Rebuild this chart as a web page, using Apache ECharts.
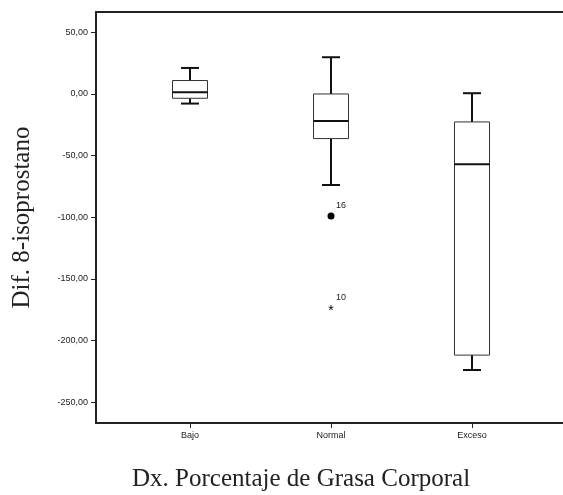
<!DOCTYPE html>
<html>
<head>
<meta charset="utf-8">
<script src="https://cdn.jsdelivr.net/npm/echarts@6/dist/echarts.min.js"></script>
<style>
  html, body { margin: 0; padding: 0; background: #fff; }
  #chart { width: 563px; height: 495px; }
</style>
</head>
<body>
<div id="chart"></div>
<script>
var categories = ['Bajo', 'Normal', 'Exceso'];
// [lower whisker, Q1, median, Q3, upper whisker]
var boxValues = [
    [-7.8, -3.5, 1.4, 10.9, 21.1],
    [-73.9, -36.2, -21.9, 0, 29.8],
    [-224, -211.9, -57.1, -22.7, 0.6]
];
// [category index, value, case label, marker]
var outliers = [
    [1, -99, '16', 'circle'],
    [1, -173.4, '10', 'star']
];
var yTicks = [-250, -200, -150, -100, -50, 0, 50];

var boxData = boxValues.map(function (b, i) {
    return [i].concat(b)
});

var chart = echarts.init(document.getElementById('chart'));

var labelFont = 'Liberation Sans, Arial, sans-serif'
var serifFont = 'Liberation Serif, Times New Roman, serif'

function renderBox(params, api) {
    var x = api.value(0)
    var lo = api.coord([x, api.value(1)])
    var q1 = api.coord([x, api.value(2)])
    var med = api.coord([x, api.value(3)])
    var q3 = api.coord([x, api.value(4)])
    var hi = api.coord([x, api.value(5)])
    var cx = lo[0]
    var half = 17.5
    var cap = 9
    var thick = { stroke: '#111', lineWidth: 2 }
    return {
        type: 'group',
        children: [
            { type: 'line', shape: { x1: cx, y1: hi[1], x2: cx, y2: q3[1] }, style: thick },
            { type: 'line', shape: { x1: cx, y1: q1[1], x2: cx, y2: lo[1] }, style: thick },
            { type: 'line', shape: { x1: cx - cap, y1: hi[1], x2: cx + cap, y2: hi[1] }, style: thick },
            { type: 'line', shape: { x1: cx - cap, y1: lo[1], x2: cx + cap, y2: lo[1] }, style: thick },
            {
                type: 'rect',
                shape: { x: cx - half, y: q3[1], width: half * 2, height: q1[1] - q3[1] },
                style: { fill: '#fff', stroke: '#333', lineWidth: 1 }
            },
            { type: 'line', shape: { x1: cx - half, y1: med[1], x2: cx + half, y2: med[1] }, style: thick }
        ]
    }
}

function renderOutlier(params, api) {
    var p = api.coord([api.value(0), api.value(1)])
    var item = outliers[params.dataIndex]
    var mark
    if (item[3] === 'circle') {
        mark = { type: 'circle', shape: { cx: p[0], cy: p[1], r: 3.5 }, style: { fill: '#000' } }
    } else {
        mark = {
            type: 'text',
            x: p[0], y: p[1] + 3,
            style: { text: '*', fontSize: 14, fontFamily: labelFont, fill: '#000', align: 'center', verticalAlign: 'middle' }
        }
    }
    return {
        type: 'group',
        children: [
            mark,
            {
                type: 'text',
                x: p[0] + 5, y: p[1] - 10,
                style: { text: item[2], fontSize: 9, fontFamily: labelFont, fill: '#222', align: 'left', verticalAlign: 'middle' }
            }
        ]
    }
}

var option = {
    backgroundColor: '#fff',
    animation: false,
    title: {
        text: 'Dx. Porcentaje de Grasa Corporal',
        left: 132,
        top: 467,
        padding: 0,
        textStyle: { fontFamily: serifFont, fontSize: 25, fontWeight: 'normal', color: '#222' }
    },
    grid: { left: 96, right: 0, top: 12, bottom: 72 },
    xAxis: [{
        type: 'value',
        position: 'bottom',
        min: -2 / 3,
        max: -2 / 3 + 467 / 141,
        splitLine: { show: false },
        axisLine: { show: true, onZero: false, lineStyle: { color: '#222', width: 2 } },
        axisTick: { show: true, customValues: [0, 1, 2], length: 5, lineStyle: { color: '#222' } },
        axisLabel: {
            customValues: [0, 1, 2],
            margin: 8,
            fontSize: 9,
            fontFamily: labelFont,
            color: '#222',
            formatter: function (v) { return categories[Math.round(v)] }
        }
    }, {
        type: 'value',
        position: 'top',
        min: -2 / 3,
        max: -2 / 3 + 467 / 141,
        splitLine: { show: false },
        axisLine: { show: true, onZero: false, lineStyle: { color: '#222', width: 2 } },
        axisTick: { show: false },
        axisLabel: { show: false }
    }],
    yAxis: {
        type: 'value',
        min: -267,
        max: 66.5,
        name: 'Dif. 8-isoprostano',
        nameLocation: 'middle',
        nameGap: 61,
        nameTextStyle: { fontFamily: serifFont, fontSize: 25, color: '#222' },
        splitLine: { show: false },
        axisLine: { show: true, onZero: false, lineStyle: { color: '#222', width: 2 } },
        axisTick: { show: true, customValues: yTicks, length: 5, lineStyle: { color: '#222' } },
        axisLabel: {
            customValues: yTicks,
            margin: 8,
            fontSize: 9,
            fontFamily: labelFont,
            color: '#222',
            formatter: function (v) { return v.toFixed(2).replace('.', ',') }
        }
    },
    series: [{
        type: 'custom',
        name: 'box',
        renderItem: renderBox,
        encode: { x: 0, y: [1, 2, 3, 4, 5] },
        data: boxData
    }, {
        type: 'custom',
        name: 'outliers',
        renderItem: renderOutlier,
        encode: { x: 0, y: 1 },
        data: outliers.map(function (o) { return [o[0], o[1]] })
    }]
};

chart.setOption(option);
</script>
</body>
</html>
